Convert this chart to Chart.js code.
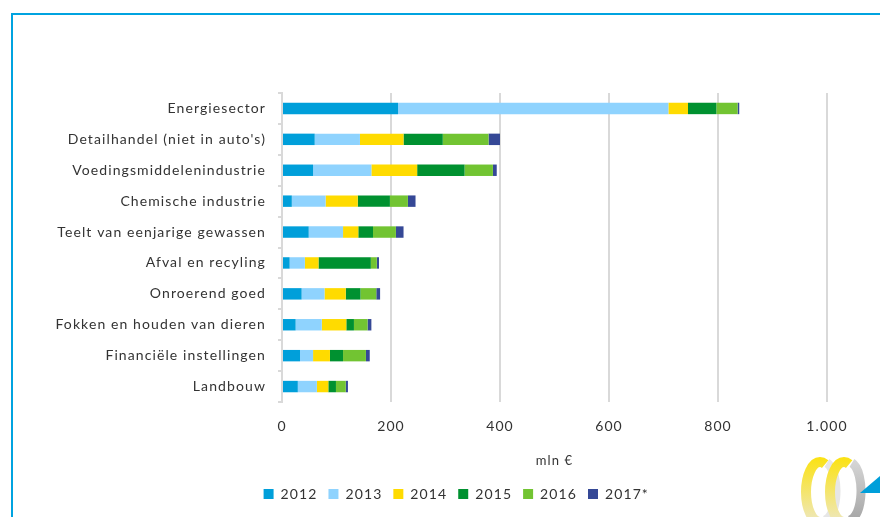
<!DOCTYPE html>
<html>
<head>
<meta charset="utf-8">
<script src="https://cdn.jsdelivr.net/npm/chart.js@4"></script>
<style>
  body { margin: 0; background: #fff; }
  #wrap { position: relative; width: 880px; height: 517px; overflow: hidden; }
  #frame { position: absolute; left: 11px; top: 13px; width: 900px; height: 540px;
           border-left: 2px solid #00a3e0; border-top: 2px solid #00a3e0; box-sizing: border-box; }
  canvas { position: absolute; left: 0; top: 0; }
</style>
</head>
<body>
<div id="wrap">
  <div id="frame"></div>
  <canvas id="myChart" width="880" height="517"></canvas>
</div>
<script>
const categories = [
    'Energiesector',
    "Detailhandel (niet in auto's)",
    'Voedingsmiddelenindustrie',
    'Chemische industrie',
    'Teelt van eenjarige gewassen',
    'Afval en recyling',
    'Onroerend goed',
    'Fokken en houden van dieren',
    'Financiële instellingen',
    'Landbouw'
]
const years = ['2012', '2013', '2014', '2015', '2016', '2017*']
const v2012 = [213, 60, 57, 18, 49, 14, 36, 25, 33, 29]
const v2013 = [496, 83, 107, 62, 63, 28, 42, 48, 24, 35]
const v2014 = [36, 80, 84, 59, 28, 25, 39, 45, 31, 21]
const v2015 = [52, 72, 87, 59, 27, 96, 27, 14, 24, 14]
const v2016 = [39, 84, 52, 33, 42, 11, 29, 25, 42, 18]
const v2017 = [3, 21, 7, 14, 14, 4, 7, 7, 7, 4]
const xTicks = [0, 200, 400, 600, 800, 1000]

const colors = ['#009fda', '#8fd3fe', '#ffdb00', '#009130', '#72c432', '#354896']
const seriesValues = [v2012, v2013, v2014, v2015, v2016, v2017]

const fontFamily = 'Lato, "Open Sans", sans-serif'
const textColor = '#333333'

// the original text is rendered a bit letter-spaced
const spacingPlugin = {
    id: 'spacing',
    beforeDraw(chart) { chart.ctx.letterSpacing = '1.1px' },
    afterDraw(chart) { chart.ctx.letterSpacing = '0px' }
}

// legend sits under the plot, not under the whole canvas
const legendShift = {
    id: 'legendShift',
    afterLayout(chart) {
        chart.legend.left += 29
        chart.legend.right += 29
    }
}

// decorative logo in the bottom-right corner
const logoPlugin = {
    id: 'logo',
    afterDraw(chart) {
        const ctx = chart.ctx
        ctx.save()
        const grad = ctx.createLinearGradient(0, 458, 0, 517)
        grad.addColorStop(0, '#fbe214')
        grad.addColorStop(1, '#efe7b0')
        const grey = ctx.createLinearGradient(0, 458, 0, 517)
        grey.addColorStop(0, '#d8d8d8')
        grey.addColorStop(1, '#a9a9a9')
        // grey bands behind
        ctx.lineWidth = 9
        ctx.strokeStyle = '#e6e6e6'
        ctx.beginPath()
        ctx.ellipse(824, 491, 12, 29, 0, -Math.PI * 0.42, Math.PI * 0.55)
        ctx.stroke()
        ctx.strokeStyle = grey
        ctx.beginPath()
        ctx.ellipse(849, 491, 12, 29, 0, -Math.PI * 0.42, Math.PI * 0.55)
        ctx.stroke()
        // yellow bands
        ctx.lineWidth = 10
        ctx.strokeStyle = grad
        ctx.beginPath()
        ctx.ellipse(820, 492, 14, 30, 0, Math.PI * 0.5, Math.PI * 1.62)
        ctx.stroke()
        ctx.beginPath()
        ctx.ellipse(844, 492, 14, 30, 0, Math.PI * 0.5, Math.PI * 1.62)
        ctx.stroke()
        ctx.fillStyle = '#009fda'
        ctx.beginPath()
        ctx.moveTo(860, 493)
        ctx.lineTo(880, 476)
        ctx.lineTo(880, 493)
        ctx.closePath()
        ctx.fill()
        ctx.restore()
    }
}

const ctxBar = document.getElementById('myChart').getContext('2d')

const chartBar = new Chart(ctxBar, {
    type: 'bar',
    data: {
        labels: categories,
        datasets: years.map((year, i) => ({
            label: year,
            data: seriesValues[i],
            backgroundColor: colors[i],
            borderWidth: 0,
            categoryPercentage: 0.37,
            barPercentage: 1
        }))
    },
    options: {
        indexAxis: 'y',
        responsive: false,
        animation: false,
        layout: { padding: { left: 0, right: 53, top: 93, bottom: 6 } },
        scales: {
            x: {
                stacked: true,
                min: 0,
                max: 1000,
                afterBuildTicks: (scale) => { scale.ticks = xTicks.map(v => ({ value: v })) },
                afterFit: (scale) => { scale.height = 74 },
                grid: { color: '#d9d9d9', lineWidth: 2, drawTicks: false },
                border: { display: false },
                ticks: {
                    color: textColor,
                    padding: 16,
                    font: { family: fontFamily, size: 14 },
                    callback: (value) => String(value).replace(/\B(?=(\d{3})+(?!\d))/g, '.')
                },
                title: {
                    display: true,
                    text: 'mln €',
                    color: textColor,
                    font: { family: fontFamily, size: 13 },
                    padding: { top: 12, bottom: 7 }
                }
            },
            y: {
                stacked: true,
                afterFit: (scale) => { scale.width = 282 },
                grid: { drawOnChartArea: false, drawTicks: true, tickLength: 4, color: '#d9d9d9', lineWidth: 2 },
                border: { display: true, color: '#d9d9d9', width: 2 },
                ticks: {
                    color: textColor,
                    padding: 12,
                    font: { family: fontFamily, size: 14 }
                }
            }
        },
        plugins: {
            legend: {
                position: 'bottom',
                labels: {
                    boxWidth: 10,
                    boxHeight: 10,
                    padding: 11,
                    color: textColor,
                    font: { family: fontFamily, size: 14 }
                }
            },
            tooltip: { enabled: false }
        }
    },
    plugins: [spacingPlugin, legendShift, logoPlugin]
})
</script>
</body>
</html>
